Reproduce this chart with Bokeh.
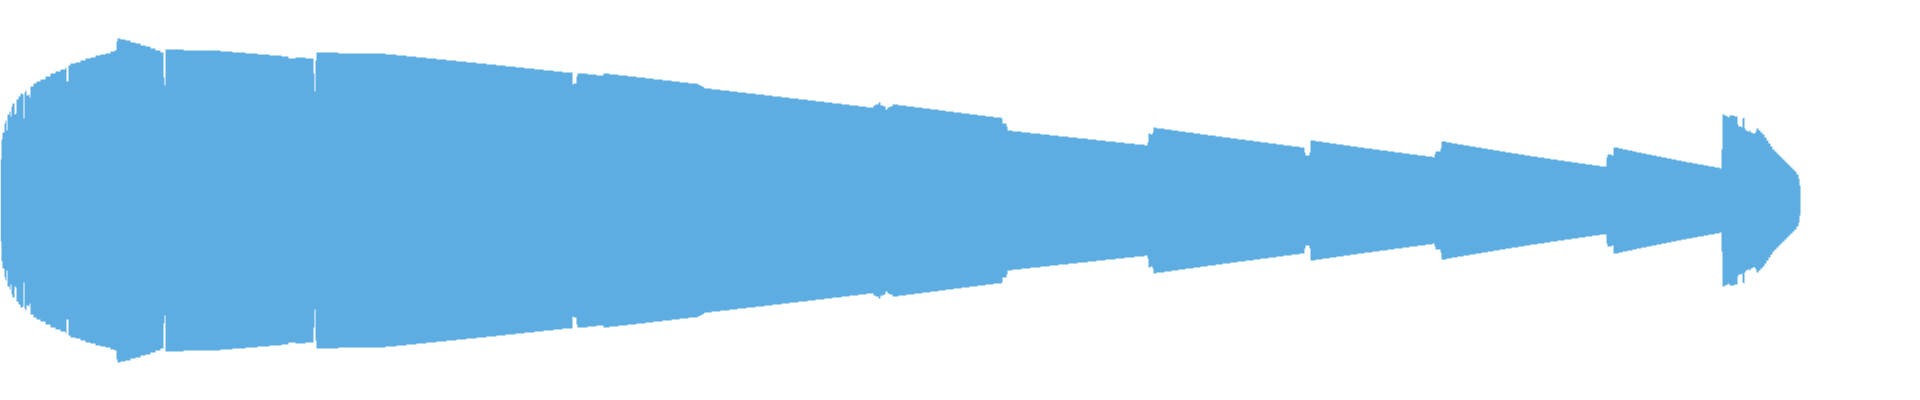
from bokeh.plotting import figure
from bokeh.models import Range1d, ColumnDataSource
from bokeh.embed import file_html
from bokeh.resources import INLINE

# Start position of each step and its half-width (the shape is symmetric around zero)
seg_start = [
    0, 1, 2, 4, 5, 6, 7, 9, 10, 11, 12, 14, 15, 16, 18, 20, 22, 23, 24, 25, 26, 28, 29,
    30, 33, 36, 40, 45, 50, 55, 60, 65, 66, 68, 70, 75, 80, 85, 90, 95, 100, 105, 110,
    114, 116, 117, 120, 125, 130, 135, 140, 145, 150, 155, 160, 163, 164, 165, 183, 220,
    232, 245, 257, 269, 281, 288, 295, 305, 313, 314, 315, 316, 338, 385, 396, 406, 416,
    426, 436, 446, 456, 466, 476, 486, 496, 505, 515, 524, 534, 543, 553, 562, 572, 573,
    576, 577, 587, 596, 603, 609, 618, 627, 636, 645, 653, 662, 671, 679, 688, 697, 699,
    701, 703, 704, 711, 720, 729, 737, 746, 755, 764, 772, 781, 789, 798, 807, 815, 824,
    832, 841, 849, 858, 866, 873, 875, 878, 880, 883, 885, 887, 889, 892, 898, 906, 914,
    922, 930, 938, 945, 953, 961, 969, 977, 985, 993, 1001, 1002, 1006, 1007, 1012, 1021,
    1030, 1040, 1049, 1058, 1068, 1077, 1087, 1096, 1105, 1115, 1124, 1134, 1144, 1147,
    1148, 1150, 1152, 1153, 1156, 1164, 1171, 1178, 1185, 1193, 1200, 1207, 1215, 1222,
    1230, 1237, 1245, 1253, 1260, 1268, 1276, 1283, 1291, 1299, 1304, 1305, 1309, 1310,
    1315, 1322, 1329, 1336, 1343, 1350, 1357, 1364, 1372, 1379, 1387, 1394, 1402, 1409,
    1417, 1425, 1432, 1434, 1435, 1440, 1441, 1446, 1451, 1457, 1463, 1469, 1475, 1481,
    1487, 1493, 1499, 1505, 1511, 1518, 1524, 1530, 1537, 1544, 1550, 1557, 1564, 1571,
    1578, 1585, 1592, 1599, 1606, 1607, 1611, 1613, 1618, 1622, 1627, 1632, 1636, 1641,
    1646, 1651, 1656, 1661, 1666, 1671, 1676, 1681, 1686, 1692, 1697, 1703, 1708, 1714,
    1719, 1721, 1722, 1724, 1726, 1728, 1729, 1734, 1737, 1738, 1741, 1742, 1743, 1744,
    1745, 1747, 1749, 1750, 1752, 1755, 1756, 1758, 1760, 1762, 1764, 1766, 1768, 1770,
    1772, 1774, 1776, 1778, 1780, 1782, 1784, 1786, 1788, 1790, 1792, 1794, 1796, 1798,
    1799,
]
half_width = [
    41, 61, 68, 77, 80, 70, 86, 89, 84, 94, 97, 86, 87, 101, 104, 107, 106, 82, 108, 110, 105, 106, 103,
    114, 117, 119, 121, 124, 127, 129, 131, 133, 119, 135, 137, 138, 140, 142, 143, 145, 146, 147, 149,
    150, 159, 162, 161, 160, 158, 157, 155, 154, 152, 150, 148, 123, 115, 151, 150, 149,
    148, 147, 146, 145, 144, 142, 143, 142, 127, 109, 140, 148, 147, 146, 145, 144, 143,
    142, 141, 140, 139, 138, 137, 136, 135, 134, 133, 132, 131, 130, 129, 128, 116, 117,
    124, 127, 126, 125, 127, 126, 125, 124, 123, 122, 121, 120, 119, 118, 117, 116, 115,
    114, 113, 112, 111, 110, 109, 108, 107, 106, 105, 104, 103, 102, 101, 100, 99, 98,
    97, 96, 95, 94, 93, 95, 96, 98, 95, 94, 91, 93, 94, 96, 95, 94, 93,
    92, 91, 90, 89, 88, 87, 86, 85, 84, 83, 82, 77, 74, 70, 69, 68,
    67, 66, 65, 64, 63, 62, 61, 60, 59, 58, 57, 56, 55, 58,
    67, 66, 68, 73, 72, 71, 70, 69, 68, 67, 66, 65, 64, 63,
    62, 61, 60, 59, 58, 57, 56, 55, 54, 53, 48, 45, 48, 60,
    59, 58, 57, 56, 55, 54, 53, 52, 51, 50, 49, 48, 47, 46,
    45, 44, 43, 46, 49, 52, 59, 58, 57, 56, 55, 54, 53, 52,
    51, 50, 49, 48, 47, 46, 45, 44, 43, 42, 41, 40, 39, 38,
    37, 36, 35, 34, 43, 46, 45, 53, 52, 51, 50, 49, 48, 47,
    46, 45, 44, 43, 42, 41, 40, 39, 38, 37, 36, 35, 34, 33,
    32, 51, 86, 85, 84, 83, 85, 84, 76, 74, 73, 82, 83, 72,
    70, 69, 70, 68, 67, 69, 72, 70, 68, 66, 63, 60, 57, 54,
    51, 49, 47, 45, 43, 41, 39, 37, 35, 33, 31, 29, 26, 22,
    15,
]
last_end = 1800

edges = seg_start + [last_end]
xs, top = [], []
for i, h in enumerate(half_width):
    xs += [edges[i], edges[i + 1]]
    top += [h, h]
bottom = [-t for t in top]
src = ColumnDataSource(dict(x=xs, y1=bottom, y2=top))

p = figure(width=1920, height=400, output_backend="svg", toolbar_location=None,
           x_range=Range1d(0, 1920), y_range=Range1d(-200, 200),
           x_axis_location=None, y_axis_location=None, min_border=0)
p.grid.visible = False
p.outline_line_color = None
p.background_fill_color = "white"
p.border_fill_color = "white"
p.varea(x="x", y1="y1", y2="y2", source=src, fill_color="#5DADE2", fill_alpha=1.0)

open("out.html", "w").write(file_html(p, INLINE))
